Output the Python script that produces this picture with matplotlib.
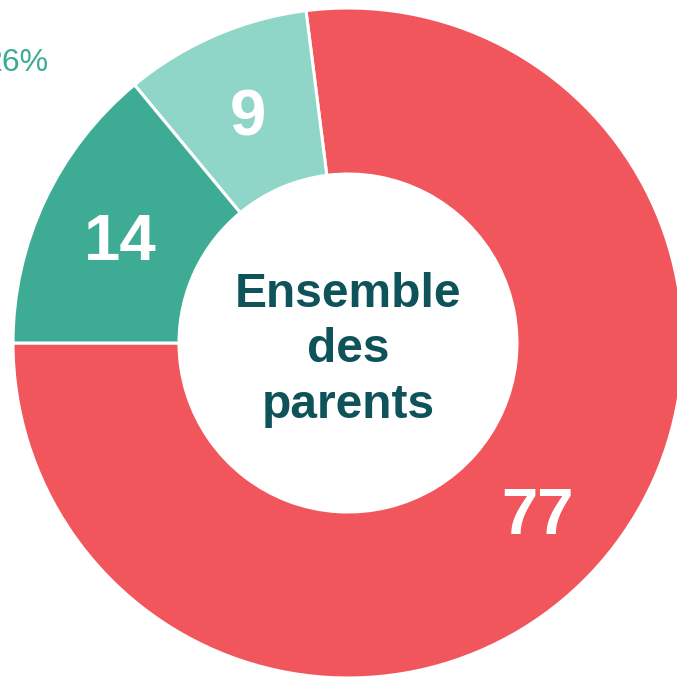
import numpy as np
import matplotlib.pyplot as plt

# share of parents (%)
values = [77, 9, 14]
labels = ['77', '9', '14']
colors = ['#F0565B', '#8FD6C8', '#3EAC94']
center_text = 'Ensemble\ndes\nparents'
side_label = '26%'

W, H = 677, 678
fig = plt.figure(figsize=(W / 100, H / 100), dpi=100)
ax = fig.add_axes([0, 0, 1, 1])

cx, cy = 348, H - 343
r_out, r_in = 335, 169
wedges, _ = ax.pie(values, colors=colors, startangle=180, counterclock=True,
                   radius=r_out, center=(cx, cy), frame=True,
                   wedgeprops=dict(width=r_out - r_in, edgecolor='white', linewidth=2.2))
ax.set_xlim(0, W)
ax.set_ylim(0, H)
ax.axis('off')

r_lab = (r_out + r_in) / 2
for w, lab in zip(wedges, labels):
    ang = np.deg2rad((w.theta1 + w.theta2) / 2)
    ax.text(cx + r_lab * np.cos(ang), cy + r_lab * np.sin(ang) - 7, lab,
            ha='center', va='center', color='white', fontsize=47,
            fontweight='bold', family='Liberation Sans')

ax.text(cx, cy - 7, center_text, ha='center', va='center', color='#0E535A',
        fontsize=34.5, fontweight='bold', family='Liberation Sans', linespacing=1.3)

ax.text(48, H - 63, side_label, ha='right', va='center', color='#3EAC94',
        fontsize=23, family='Liberation Sans')

fig.savefig('out.png', dpi=100)
